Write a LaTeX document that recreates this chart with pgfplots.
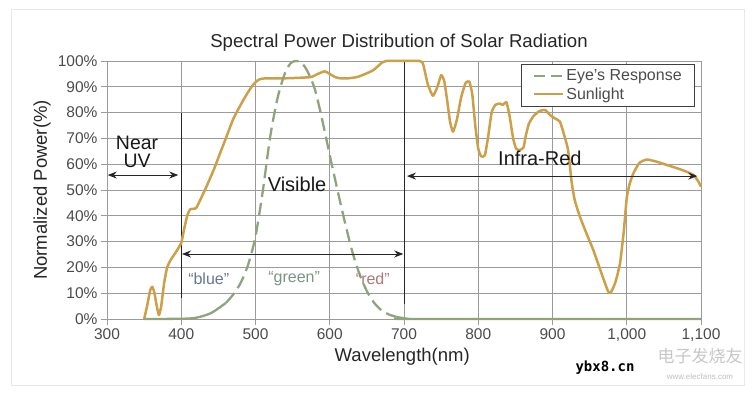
\documentclass[border=0pt]{standalone}
\usepackage{fontspec}
\setmainfont{Liberation Sans}
\newfontfamily\wmfont{DejaVu Sans Mono}
\newfontfamily\cjk{Noto Sans CJK SC}
\usepackage{pgfplots}
\pgfplotsset{compat=1.18}
\pgfplotsset{legend image code/.code={\draw[#1] (0pt,0pt) -- (29pt,0pt);}}
\usetikzlibrary{arrows.meta}
\definecolor{sun}{RGB}{204,160,72}
\definecolor{eye}{RGB}{143,163,124}
\definecolor{gridc}{RGB}{155,155,155}
\definecolor{txt}{RGB}{75,75,75}
\definecolor{cblue}{RGB}{100,120,150}
\definecolor{cgreen}{RGB}{120,150,130}
\definecolor{cred}{RGB}{170,120,120}
\begin{document}
\begin{tikzpicture}[x=1pt,y=1pt]
\useasboundingbox (0,0) rectangle (752,397);
\draw[black!9, line width=0.8pt] (11,12) rectangle (744,388);
\begin{axis}[
  at={(107pt,78pt)}, anchor=south west,
  scale only axis, width=594pt, height=258pt,
  xmin=300, xmax=1100, ymin=0, ymax=100,
  xtick={300,400,500,600,700,800,900,1000,1100},
  xticklabels={300,400,500,600,700,800,900,{1,000},{1,100}},
  ytick={0,10,20,30,40,50,60,70,80,90,100},
  yticklabels={0\%,10\%,20\%,30\%,40\%,50\%,60\%,70\%,80\%,90\%,100\%},
  grid=major, major grid style={gridc, line width=0.7pt},
  axis line style={gridc, line width=0.7pt},
  tick style={gridc, line width=0.7pt},
  tick align=outside, major tick length=6pt,
  xtick pos=bottom, ytick pos=left,
  tick label style={font=\fontsize{15.5}{18}\selectfont, text=txt},
  xlabel={Wavelength(nm)}, ylabel={Normalized Power(\%)},
  every axis x label/.style={at={(rel axis cs:0.497,0)}, yshift=-38pt, anchor=center, font=\fontsize{18.5}{22}\selectfont, text=black!85},
  every axis y label/.style={at={(rel axis cs:0,0.5)}, xshift=-65pt, rotate=90, anchor=center, font=\fontsize{18.5}{22}\selectfont, text=black!85},
  title={Spectral Power Distribution of Solar Radiation},
  every axis title/.style={at={(rel axis cs:0.4916,1)}, yshift=18pt, anchor=center, font=\fontsize{18.6}{22}\selectfont, text=black!85},
  legend style={at={(rel axis cs:0.99,0.988)}, anchor=north east, draw=black!75, line width=0.7pt, fill=white,
    font=\fontsize{16}{19}\selectfont, text=txt, inner xsep=11pt, inner ysep=3.5pt, row sep=1pt},
  legend cell align=left,
  clip=false,
]
% dark region lines
\draw[black!85, line width=0.9pt] (axis cs:400,8) -- (axis cs:400,80);
\draw[black!85, line width=0.9pt] (axis cs:700,6) -- (axis cs:700,100);

\addlegendimage{eye, line width=2.4pt, dash pattern=on 11pt off 6pt}
\addlegendentry{Eye's Response}
\addlegendimage{sun, line width=2.6pt}
\addlegendentry{Sunlight}

\addplot[sun, line width=2.5pt, smooth, tension=0.3, line join=round, forget plot] coordinates {
(350,0) (354,5) (358,11) (361,12.5) (364,10) (367,5) (370,1.5) (373,5) (377,14) (381,20)
(386,23) (393,26) (400,29.5) (404,35) (408,40) (412,42.5) (420,43) (427,47) (435,52) (444,58)
(452,64) (460,70) (470,77.5) (480,83) (488,87) (496,90.5) (503,92.5) (510,93.2) (540,93.3) (560,93.5)
(575,93.8) (584,95) (593,96) (600,95) (607,93.8) (614,93.3) (625,93.3) (637,93.8) (648,95) (659,96.5)
(668,98.8) (676,100) (721,100) (726,98.5) (732,91) (739,86.5) (745,90) (750,94.5) (754,92.5) (758,85)
(762,76.5) (766,72.6) (771,77) (777,86) (783,91.5) (788,92) (792,87) (796,75) (800,66) (804,63)
(809,63.5) (813,70) (818,80) (823,83) (829,83.5) (833,83) (838,84) (842,79) (847,70) (851,66)
(856,65.5) (861,66.5) (864,71) (868,75.5) (874,78.5) (882,80.5) (890,81) (897,79) (903,77.8) (910,76.5)
(915,72) (921,65.5) (926,52.6) (930,46) (937,39.6) (946,33) (955,26.7) (965,18.5) (975,10.6) (979,10.5)
(985,14.5) (991,21.7) (996,34) (1000,47) (1004,52.5) (1009,56.5) (1017,60.5) (1027,61.8) (1040,61) (1054,59.7)
(1066,58.6) (1078,57.4) (1090,55.8) (1096,53.5) (1100,51.3)
};

\addplot[eye, line width=2.3pt, smooth, forget plot] coordinates {
(350,0) (400,0.1) (420,0.5) (440,2.3) (460,6.2)
};
\addplot[eye, line width=2.3pt, smooth, dash pattern=on 13pt off 6pt, forget plot] coordinates {
(460,6.2) (470,9.5) (480,14) (490,21) (500,32) (510,50) (520,71) (530,86) (540,95.5) (548,99.3)
(555,100) (562,99.3) (570,96) (580,89) (590,77) (600,63.5) (610,50.5) (620,38) (630,26.5) (640,17.5)
(650,10.8) (660,6.2) (670,3.3) (680,1.7) (690,0.8)
};
\addplot[eye, line width=2.3pt, smooth, forget plot] coordinates {
(690,0.8) (700,0.3) (715,0) (1100,0)
};

% annotations
\node[font=\fontsize{19.5}{20}\selectfont, text=black!90, inner sep=0pt] at (axis cs:340.5,68.3) {Near};
\node[font=\fontsize{19.5}{20}\selectfont, text=black!90, inner sep=0pt] at (axis cs:340.5,61.4) {UV};
\draw[{Stealth[length=9pt,width=7pt]}-{Stealth[length=9pt,width=7pt]}, black!85, line width=0.9pt] (axis cs:301,55.8) -- (axis cs:396,55.8);
\node[font=\fontsize{20}{24}\selectfont, text=black!90] at (axis cs:556,52) {Visible};
\draw[{Stealth[length=9pt,width=7pt]}-{Stealth[length=9pt,width=7pt]}, black!85, line width=0.9pt] (axis cs:401,25.2) -- (axis cs:699,25.2);
\node[font=\fontsize{16}{19}\selectfont, text=cblue] at (axis cs:437,15.5) {“blue”};
\node[font=\fontsize{16}{19}\selectfont, text=cgreen] at (axis cs:552,15.5) {“green”};
\node[font=\fontsize{16}{19}\selectfont, text=cred] at (axis cs:658,15.5) {“red”};
\node[font=\fontsize{20}{24}\selectfont, text=black!90] at (axis cs:883,62.4) {Infra-Red};
\draw[{Stealth[length=9pt,width=7pt]}-{Stealth[length=9pt,width=7pt]}, black!85, line width=0.9pt] (axis cs:704,55.4) -- (axis cs:1095,55.4);
\end{axis}
% watermark
\node[font=\wmfont\bfseries\fontsize{14}{16}\selectfont, text=black] at (605,29) {ybx8.cn};
\node[font=\cjk\fontsize{17}{19}\selectfont, text=black!22] at (700,41) {电子发烧友};
\node[font=\fontsize{8}{10}\selectfont, text=black!25] at (700,20) {www.elecfans.com};
\end{tikzpicture}
\end{document}
